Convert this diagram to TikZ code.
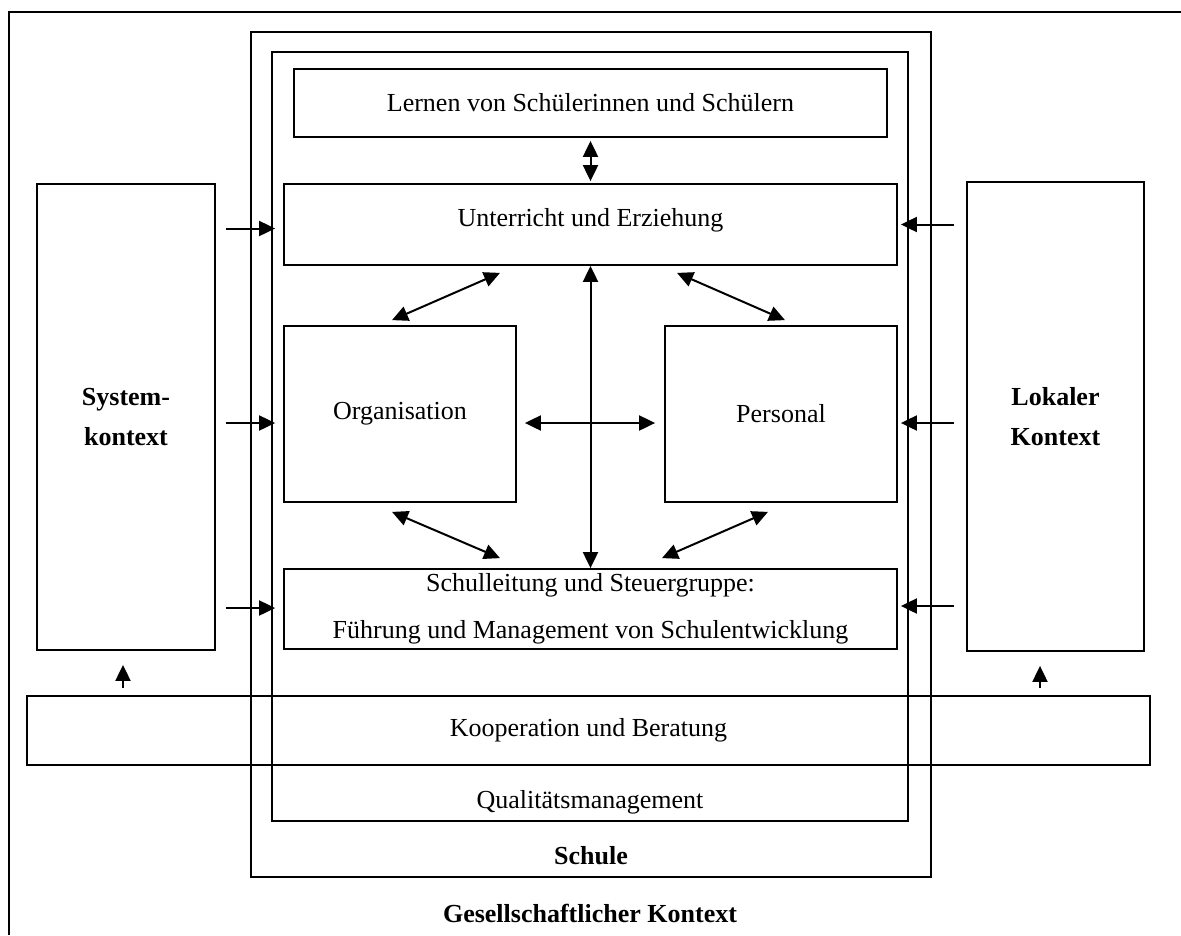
\documentclass[tikz,border=0pt]{standalone}
\usepackage{fontspec}
\setmainfont{Liberation Serif}
\usetikzlibrary{arrows.meta}

\tikzset{
  box/.style={draw, line width=1.8pt, inner sep=0pt, align=center},
  arr/.style={-{Triangle[length=16pt,width=15pt]}, line width=2pt},
  dblarr/.style={{Triangle[length=16pt,width=15pt]}-{Triangle[length=16pt,width=15pt]}, line width=2pt},
}

\begin{document}
\begin{tikzpicture}[x=1pt,y=1pt,yscale=-1,font=\fontsize{26}{32}\selectfont]
\useasboundingbox (0,0) rectangle (1181,935);

%Shape: Frame (cut off at right and bottom)
\draw [line width=1.8pt] (1181,12) -- (9,12) -- (9,935) ;
%Shape: Rectangle
\node [box, minimum width=680pt, minimum height=845pt] (schule) at (591,454.5) {};
%Shape: Rectangle
\node [box, minimum width=636pt, minimum height=769pt] (qm) at (590,436.5) {};
%Shape: Rectangle
\node [box, minimum width=593pt, minimum height=68pt] (lernen) at (590.5,103) {Lernen von Schülerinnen und Schülern};
%Shape: Rectangle
\node [box, minimum width=613pt, minimum height=81pt] (unterricht) at (590.5,224.5) {\raisebox{14pt}{Unterricht und Erziehung}};
%Shape: Rectangle
\node [box, minimum width=232pt, minimum height=176pt] (org) at (400,414) {Organisation};
%Shape: Rectangle
\node [box, minimum width=232pt, minimum height=176pt] (pers) at (781,414) {Personal};
%Shape: Rectangle
\node [box, minimum width=613pt, minimum height=80pt, font=\fontsize{26}{40}\selectfont] (leitung) at (590.5,609) {\raisebox{-3pt}{Schulleitung und Steuergruppe:}\\[10pt]Führung und Management von Schulentwicklung};
%Shape: Rectangle
\node [box, minimum width=178pt, minimum height=466pt, font=\fontsize{26}{40}\selectfont\bfseries] (system) at (126,417) {System-\\kontext};
%Shape: Rectangle
\node [box, minimum width=177pt, minimum height=469pt, font=\fontsize{26}{40}\selectfont\bfseries] (lokal) at (1055.5,416.5) {Lokaler\\Kontext};
%Shape: Rectangle
\node [box, minimum width=1123pt, minimum height=69pt] (koop) at (588.5,730.5) {Kooperation und Beratung};

%Straight Lines: inside the school
\draw [dblarr, shorten <=3pt, shorten >=2pt] (lernen.south) -- (unterricht.north) ;
\draw [dblarr] (unterricht.south) -- (leitung.north) ;
\draw [dblarr] ([xshift=8pt,yshift=9pt]org.east) -- ([xshift=-9pt,yshift=9pt]pers.west) ;
\draw [dblarr] ([xshift=-8pt,yshift=-5pt]org.north) -- ([xshift=-90.5pt,yshift=7pt]unterricht.south) ;
\draw [dblarr] ([xshift=86.5pt,yshift=7pt]unterricht.south) -- ([xshift=4pt,yshift=-5pt]pers.north) ;
\draw [dblarr] ([xshift=-8pt,yshift=9pt]org.south) -- ([xshift=-90.5pt,yshift=-10pt]leitung.north) ;
\draw [dblarr] ([xshift=-13pt,yshift=9pt]pers.south) -- ([xshift=71.5pt,yshift=-10pt]leitung.north) ;

%Straight Lines: from the contexts
\foreach \tgt/\dy in {unterricht/4, org/9, leitung/-1}{
  \draw [arr] ([xshift=10pt,yshift=\dy pt]system.east |- \tgt.west) -- ([xshift=-8pt,yshift=\dy pt]\tgt.west) ;
}
\foreach \tgt/\dy in {unterricht/0, pers/9, leitung/-3}{
  \draw [arr] ([xshift=-12pt,yshift=\dy pt]lokal.west |- \tgt.east) -- ([xshift=3pt,yshift=\dy pt]\tgt.east) ;
}
\draw [arr] ([xshift=-3pt,yshift=-7pt]koop.north -| system.south) -- ([xshift=-3pt,yshift=14pt]system.south) ;
\draw [arr] ([xshift=-15.5pt,yshift=-7pt]koop.north -| lokal.south) -- ([xshift=-15.5pt,yshift=14pt]lokal.south) ;

% Text Node
\node (qmlabel) at (590,802) {Qualitätsmanagement};
% Text Node
\node [font=\fontsize{26}{32}\selectfont\bfseries] (schulelabel) at (591,856) {Schule};
% Text Node
\node [font=\fontsize{26}{32}\selectfont\bfseries] (kontextlabel) at (590,913) {Gesellschaftlicher Kontext};

\end{tikzpicture}
\end{document}
